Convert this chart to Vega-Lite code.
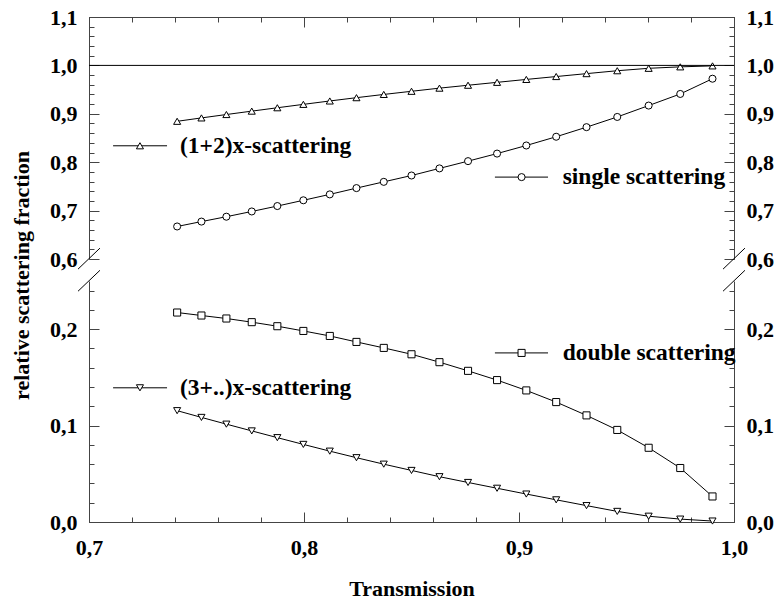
{
  "$schema": "https://vega.github.io/schema/vega-lite/v6.json",
  "padding": {"left": 9, "top": 6, "right": 0, "bottom": 0},
  "background": "white",
  "bounds": "flush",
  "config": {
    "view": {"stroke": null},
    "font": "Liberation Serif, Times New Roman, DejaVu Serif, serif",
    "axis": {
      "labelFont": "Liberation Serif, Times New Roman, DejaVu Serif, serif", "labelFontSize": 22, "labelFontWeight": "bold", "labelColor": "#000",
      "titleFont": "Liberation Serif, Times New Roman, DejaVu Serif, serif", "titleFontSize": 22, "titleFontWeight": "bold", "titleColor": "#000",
      "domainColor": "#444", "tickColor": "#444", "domainWidth": 1, "tickWidth": 1,
      "grid": false, "labelFlush": false, "labelOverlap": false, "labelBound": false
    }
  },
  "datasets": {
    "upper": [
      {"T": 0.741, "series": "single scattering", "value": 0.6672},
      {"T": 0.7523, "series": "single scattering", "value": 0.6773},
      {"T": 0.7639, "series": "single scattering", "value": 0.6874},
      {"T": 0.7757, "series": "single scattering", "value": 0.6982},
      {"T": 0.7876, "series": "single scattering", "value": 0.7094},
      {"T": 0.7997, "series": "single scattering", "value": 0.7213},
      {"T": 0.812, "series": "single scattering", "value": 0.7335},
      {"T": 0.8244, "series": "single scattering", "value": 0.7465},
      {"T": 0.8371, "series": "single scattering", "value": 0.7594},
      {"T": 0.85, "series": "single scattering", "value": 0.7725},
      {"T": 0.863, "series": "single scattering", "value": 0.7872},
      {"T": 0.8763, "series": "single scattering", "value": 0.8022},
      {"T": 0.8898, "series": "single scattering", "value": 0.8178},
      {"T": 0.9034, "series": "single scattering", "value": 0.8345},
      {"T": 0.9173, "series": "single scattering", "value": 0.8526},
      {"T": 0.9314, "series": "single scattering", "value": 0.8724},
      {"T": 0.9457, "series": "single scattering", "value": 0.8935},
      {"T": 0.9603, "series": "single scattering", "value": 0.917},
      {"T": 0.975, "series": "single scattering", "value": 0.941},
      {"T": 0.99, "series": "single scattering", "value": 0.9725},
      {"T": 0.741, "series": "(1+2)x-scattering", "value": 0.8845},
      {"T": 0.7523, "series": "(1+2)x-scattering", "value": 0.8915},
      {"T": 0.7639, "series": "(1+2)x-scattering", "value": 0.8985},
      {"T": 0.7757, "series": "(1+2)x-scattering", "value": 0.9055},
      {"T": 0.7876, "series": "(1+2)x-scattering", "value": 0.9125},
      {"T": 0.7997, "series": "(1+2)x-scattering", "value": 0.9195},
      {"T": 0.812, "series": "(1+2)x-scattering", "value": 0.9265},
      {"T": 0.8244, "series": "(1+2)x-scattering", "value": 0.9333},
      {"T": 0.8371, "series": "(1+2)x-scattering", "value": 0.94},
      {"T": 0.85, "series": "(1+2)x-scattering", "value": 0.9465},
      {"T": 0.863, "series": "(1+2)x-scattering", "value": 0.953},
      {"T": 0.8763, "series": "(1+2)x-scattering", "value": 0.959},
      {"T": 0.8898, "series": "(1+2)x-scattering", "value": 0.965},
      {"T": 0.9034, "series": "(1+2)x-scattering", "value": 0.971},
      {"T": 0.9173, "series": "(1+2)x-scattering", "value": 0.977},
      {"T": 0.9314, "series": "(1+2)x-scattering", "value": 0.983},
      {"T": 0.9457, "series": "(1+2)x-scattering", "value": 0.989},
      {"T": 0.9603, "series": "(1+2)x-scattering", "value": 0.994},
      {"T": 0.975, "series": "(1+2)x-scattering", "value": 0.997},
      {"T": 0.99, "series": "(1+2)x-scattering", "value": 0.999}
    ],
    "lower": [
      {"T": 0.741, "series": "double scattering", "value": 0.2173},
      {"T": 0.7523, "series": "double scattering", "value": 0.2142},
      {"T": 0.7639, "series": "double scattering", "value": 0.2111},
      {"T": 0.7757, "series": "double scattering", "value": 0.2073},
      {"T": 0.7876, "series": "double scattering", "value": 0.2031},
      {"T": 0.7997, "series": "double scattering", "value": 0.1982},
      {"T": 0.812, "series": "double scattering", "value": 0.193},
      {"T": 0.8244, "series": "double scattering", "value": 0.1868},
      {"T": 0.8371, "series": "double scattering", "value": 0.1806},
      {"T": 0.85, "series": "double scattering", "value": 0.174},
      {"T": 0.863, "series": "double scattering", "value": 0.1658},
      {"T": 0.8763, "series": "double scattering", "value": 0.1568},
      {"T": 0.8898, "series": "double scattering", "value": 0.1472},
      {"T": 0.9034, "series": "double scattering", "value": 0.1365},
      {"T": 0.9173, "series": "double scattering", "value": 0.1244},
      {"T": 0.9314, "series": "double scattering", "value": 0.1106},
      {"T": 0.9457, "series": "double scattering", "value": 0.0955},
      {"T": 0.9603, "series": "double scattering", "value": 0.077},
      {"T": 0.975, "series": "double scattering", "value": 0.056},
      {"T": 0.99, "series": "double scattering", "value": 0.0265},
      {"T": 0.741, "series": "(3+..)x-scattering", "value": 0.1155},
      {"T": 0.7523, "series": "(3+..)x-scattering", "value": 0.1085},
      {"T": 0.7639, "series": "(3+..)x-scattering", "value": 0.1015},
      {"T": 0.7757, "series": "(3+..)x-scattering", "value": 0.0945},
      {"T": 0.7876, "series": "(3+..)x-scattering", "value": 0.0875},
      {"T": 0.7997, "series": "(3+..)x-scattering", "value": 0.0805},
      {"T": 0.812, "series": "(3+..)x-scattering", "value": 0.0735},
      {"T": 0.8244, "series": "(3+..)x-scattering", "value": 0.0667},
      {"T": 0.8371, "series": "(3+..)x-scattering", "value": 0.06},
      {"T": 0.85, "series": "(3+..)x-scattering", "value": 0.0535},
      {"T": 0.863, "series": "(3+..)x-scattering", "value": 0.047},
      {"T": 0.8763, "series": "(3+..)x-scattering", "value": 0.041},
      {"T": 0.8898, "series": "(3+..)x-scattering", "value": 0.035},
      {"T": 0.9034, "series": "(3+..)x-scattering", "value": 0.029},
      {"T": 0.9173, "series": "(3+..)x-scattering", "value": 0.023},
      {"T": 0.9314, "series": "(3+..)x-scattering", "value": 0.017},
      {"T": 0.9457, "series": "(3+..)x-scattering", "value": 0.011},
      {"T": 0.9603, "series": "(3+..)x-scattering", "value": 0.006},
      {"T": 0.975, "series": "(3+..)x-scattering", "value": 0.003},
      {"T": 0.99, "series": "(3+..)x-scattering", "value": 0.001}
    ],
    "upperLegend": [
      {"series": "(1+2)x-scattering", "T": 0.7112, "T2": 0.7363, "Tm": 0.7237, "Tt": 0.7423, "value": 0.8339},
      {"series": "single scattering", "T": 0.8888, "T2": 0.9135, "Tm": 0.9012, "Tt": 0.9203, "value": 0.7692}
    ],
    "lowerLegend": [
      {"series": "(3+..)x-scattering", "T": 0.7112, "T2": 0.7363, "Tm": 0.7237, "Tt": 0.7423, "value": 0.1392},
      {"series": "double scattering", "T": 0.8888, "T2": 0.9135, "Tm": 0.9012, "Tt": 0.9203, "value": 0.1754}
    ],
    "upperBreak": [
      {"T": 0.6949, "T2": 0.7051, "value": 0.5791, "value2": 0.6225},
      {"T": 0.9949, "T2": 1.0051, "value": 0.5791, "value2": 0.6225}
    ],
    "lowerBreak": [
      {"T": 0.6949, "T2": 0.7051, "value": 0.2394, "value2": 0.2611},
      {"T": 0.9949, "T2": 1.0051, "value": 0.2394, "value2": 0.2611}
    ]
  },
  "spacing": 22,
  "vconcat": [
    {
      "width": 645,
      "height": 242,
      "resolve": {"axis": {"x": "independent", "y": "independent"}},
      "layer": [
        {
          "data": {"name": "upper"},
          "mark": {"type": "line", "color": "#000", "strokeWidth": 1},
          "encoding": {
            "x": {"field": "T", "type": "quantitative", "scale": {"domain": [0.7, 1.0], "nice": false, "zero": false},
              "axis": {"orient": "top", "values": [0.7, 0.8, 0.9, 1.0], "tickSize": -10, "labels": false, "title": null}},
            "y": {"field": "value", "type": "quantitative", "scale": {"domain": [0.6, 1.1], "nice": false, "zero": false},
              "axis": {"orient": "left", "values": [0.6, 0.7, 0.8, 0.9, 1.0, 1.1], "tickSize": -10, "labelPadding": 22, "title": null,
                "labelExpr": "replace(format(datum.value, '.1f'), '.', ',')"}},
            "detail": {"field": "series"}
          }
        },
        {
          "data": {"name": "upper"},
          "mark": {"type": "point", "filled": true, "fill": "white", "stroke": "#000", "strokeWidth": 1, "size": 50, "opacity": 1},
          "encoding": {
            "x": {"field": "T", "type": "quantitative", "scale": {"domain": [0.7, 1.0], "nice": false, "zero": false},
              "axis": {"orient": "top", "values": [0.7, 0.72, 0.74, 0.76, 0.78, 0.8, 0.82, 0.84, 0.86, 0.88, 0.9, 0.92, 0.94, 0.96, 0.98, 1.0], "tickSize": -5, "labels": false, "domain": false, "title": null}},
            "y": {"field": "value", "type": "quantitative", "scale": {"domain": [0.6, 1.1], "nice": false, "zero": false},
              "axis": {"orient": "right", "values": [0.6, 0.7, 0.8, 0.9, 1.0, 1.1], "tickSize": -10, "labelPadding": 22, "title": null,
                "labelExpr": "replace(format(datum.value, '.1f'), '.', ',')"}},
            "shape": {"field": "series", "type": "nominal", "legend": null,
              "scale": {"domain": ["single scattering", "(1+2)x-scattering", "double scattering", "(3+..)x-scattering"], "range": ["circle", "triangle-up", "square", "triangle-down"]}}
          }
        },
        {
          "data": {"values": [{"value": 1.0}]},
          "mark": {"type": "rule", "color": "#000", "strokeWidth": 1},
          "encoding": {
            "y": {"field": "value", "type": "quantitative", "scale": {"domain": [0.6, 1.1], "nice": false, "zero": false},
              "axis": {"orient": "left", "values": [0.6, 0.62, 0.64, 0.66, 0.68, 0.7, 0.72, 0.74, 0.76, 0.78, 0.8, 0.82, 0.84, 0.86, 0.88, 0.9, 0.92, 0.94, 0.96, 0.98, 1.0, 1.02, 1.04, 1.06, 1.08, 1.1], "tickSize": -5, "labels": false, "domain": false, "title": null}}
          }
        },
        {
          "data": {"name": "upperLegend"},
          "mark": {"type": "rule", "color": "#000", "strokeWidth": 1},
          "encoding": {
            "x": {"field": "T", "type": "quantitative", "scale": {"domain": [0.7, 1.0], "nice": false, "zero": false}, "axis": null},
            "x2": {"field": "T2"},
            "y": {"field": "value", "type": "quantitative", "scale": {"domain": [0.6, 1.1], "nice": false, "zero": false},
              "axis": {"orient": "right", "values": [0.6, 0.62, 0.64, 0.66, 0.68, 0.7, 0.72, 0.74, 0.76, 0.78, 0.8, 0.82, 0.84, 0.86, 0.88, 0.9, 0.92, 0.94, 0.96, 0.98, 1.0, 1.02, 1.04, 1.06, 1.08, 1.1], "tickSize": -5, "labels": false, "domain": false, "title": null}}
          }
        },
        {
          "data": {"name": "upperLegend"},
          "mark": {"type": "point", "filled": true, "fill": "white", "stroke": "#000", "strokeWidth": 1, "size": 50, "opacity": 1},
          "encoding": {
            "x": {"field": "Tm", "type": "quantitative", "scale": {"domain": [0.7, 1.0], "nice": false, "zero": false}, "axis": null},
            "y": {"field": "value", "type": "quantitative", "scale": {"domain": [0.6, 1.1], "nice": false, "zero": false}, "axis": null},
            "shape": {"field": "series", "type": "nominal", "legend": null,
              "scale": {"domain": ["single scattering", "(1+2)x-scattering", "double scattering", "(3+..)x-scattering"], "range": ["circle", "triangle-up", "square", "triangle-down"]}}
          }
        },
        {
          "data": {"name": "upperLegend"},
          "mark": {"type": "text", "align": "left", "baseline": "middle", "font": "Liberation Serif, Times New Roman, DejaVu Serif, serif", "fontSize": 23.5, "fontWeight": "bold", "color": "#000"},
          "encoding": {
            "x": {"field": "Tt", "type": "quantitative", "scale": {"domain": [0.7, 1.0], "nice": false, "zero": false}, "axis": null},
            "y": {"field": "value", "type": "quantitative", "scale": {"domain": [0.6, 1.1], "nice": false, "zero": false}, "axis": null},
            "text": {"field": "series"}
          }
        },
        {
          "data": {"name": "upperBreak"},
          "mark": {"type": "rule", "color": "#000", "strokeWidth": 1},
          "encoding": {
            "x": {"field": "T", "type": "quantitative", "scale": {"domain": [0.7, 1.0], "nice": false, "zero": false}, "axis": null},
            "x2": {"field": "T2"},
            "y": {"field": "value", "type": "quantitative", "scale": {"domain": [0.6, 1.1], "nice": false, "zero": false}, "axis": null},
            "y2": {"field": "value2"}
          }
        }
      ]
    },
    {
      "width": 645,
      "height": 241,
      "resolve": {"axis": {"x": "independent", "y": "independent"}},
      "layer": [
        {
          "data": {"name": "lower"},
          "mark": {"type": "line", "color": "#000", "strokeWidth": 1},
          "encoding": {
            "x": {"field": "T", "type": "quantitative", "scale": {"domain": [0.7, 1.0], "nice": false, "zero": false},
              "axis": {"orient": "bottom", "values": [0.7, 0.8, 0.9, 1.0], "tickSize": -10, "labelPadding": 25, "title": "Transmission", "titlePadding": 20,
                "labelExpr": "replace(format(datum.value, '.1f'), '.', ',')"}},
            "y": {"field": "value", "type": "quantitative", "scale": {"domain": [0, 0.25], "nice": false, "zero": false},
              "axis": {"orient": "left", "values": [0, 0.1, 0.2], "tickSize": -10, "labelPadding": 22,
                "title": "relative scattering fraction", "titleX": -68, "titleY": -6, "titleAngle": -90, "titleAlign": "center", "titleBaseline": "middle",
                "labelExpr": "replace(format(datum.value, '.1f'), '.', ',')"}},
            "detail": {"field": "series"}
          }
        },
        {
          "data": {"name": "lower"},
          "mark": {"type": "point", "filled": true, "fill": "white", "stroke": "#000", "strokeWidth": 1, "size": 50, "opacity": 1},
          "encoding": {
            "x": {"field": "T", "type": "quantitative", "scale": {"domain": [0.7, 1.0], "nice": false, "zero": false},
              "axis": {"orient": "bottom", "values": [0.7, 0.72, 0.74, 0.76, 0.78, 0.8, 0.82, 0.84, 0.86, 0.88, 0.9, 0.92, 0.94, 0.96, 0.98, 1.0], "tickSize": -5, "labels": false, "domain": false, "title": null}},
            "y": {"field": "value", "type": "quantitative", "scale": {"domain": [0, 0.25], "nice": false, "zero": false},
              "axis": {"orient": "right", "values": [0, 0.1, 0.2], "tickSize": -10, "labelPadding": 22, "title": null,
                "labelExpr": "replace(format(datum.value, '.1f'), '.', ',')"}},
            "shape": {"field": "series", "type": "nominal", "legend": null,
              "scale": {"domain": ["single scattering", "(1+2)x-scattering", "double scattering", "(3+..)x-scattering"], "range": ["circle", "triangle-up", "square", "triangle-down"]}}
          }
        },
        {
          "data": {"name": "lowerLegend"},
          "mark": {"type": "rule", "color": "#000", "strokeWidth": 1},
          "encoding": {
            "x": {"field": "T", "type": "quantitative", "scale": {"domain": [0.7, 1.0], "nice": false, "zero": false}, "axis": null},
            "x2": {"field": "T2"},
            "y": {"field": "value", "type": "quantitative", "scale": {"domain": [0, 0.25], "nice": false, "zero": false},
              "axis": {"orient": "left", "values": [0, 0.02, 0.04, 0.06, 0.08, 0.1, 0.12, 0.14, 0.16, 0.18, 0.2, 0.22, 0.24], "tickSize": -5, "labels": false, "domain": false, "title": null}}
          }
        },
        {
          "data": {"name": "lowerLegend"},
          "mark": {"type": "point", "filled": true, "fill": "white", "stroke": "#000", "strokeWidth": 1, "size": 50, "opacity": 1},
          "encoding": {
            "x": {"field": "Tm", "type": "quantitative", "scale": {"domain": [0.7, 1.0], "nice": false, "zero": false}, "axis": null},
            "y": {"field": "value", "type": "quantitative", "scale": {"domain": [0, 0.25], "nice": false, "zero": false},
              "axis": {"orient": "right", "values": [0, 0.02, 0.04, 0.06, 0.08, 0.1, 0.12, 0.14, 0.16, 0.18, 0.2, 0.22, 0.24], "tickSize": -5, "labels": false, "domain": false, "title": null}},
            "shape": {"field": "series", "type": "nominal", "legend": null,
              "scale": {"domain": ["single scattering", "(1+2)x-scattering", "double scattering", "(3+..)x-scattering"], "range": ["circle", "triangle-up", "square", "triangle-down"]}}
          }
        },
        {
          "data": {"name": "lowerLegend"},
          "mark": {"type": "text", "align": "left", "baseline": "middle", "font": "Liberation Serif, Times New Roman, DejaVu Serif, serif", "fontSize": 23.5, "fontWeight": "bold", "color": "#000"},
          "encoding": {
            "x": {"field": "Tt", "type": "quantitative", "scale": {"domain": [0.7, 1.0], "nice": false, "zero": false}, "axis": null},
            "y": {"field": "value", "type": "quantitative", "scale": {"domain": [0, 0.25], "nice": false, "zero": false}, "axis": null},
            "text": {"field": "series"}
          }
        },
        {
          "data": {"name": "lowerBreak"},
          "mark": {"type": "rule", "color": "#000", "strokeWidth": 1},
          "encoding": {
            "x": {"field": "T", "type": "quantitative", "scale": {"domain": [0.7, 1.0], "nice": false, "zero": false}, "axis": null},
            "x2": {"field": "T2"},
            "y": {"field": "value", "type": "quantitative", "scale": {"domain": [0, 0.25], "nice": false, "zero": false}, "axis": null},
            "y2": {"field": "value2"}
          }
        }
      ]
    }
  ]
}
